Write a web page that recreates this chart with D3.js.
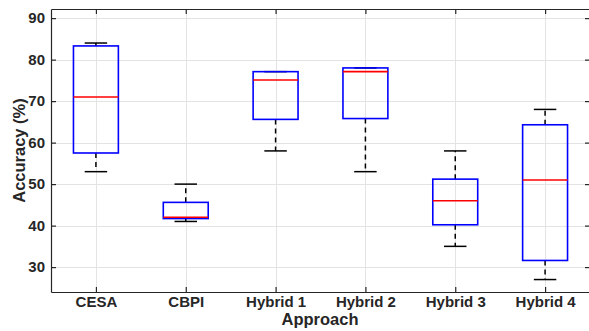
<!DOCTYPE html>
<html lang="en">
<head>
    <meta charset="UTF-8">
    <title>Accuracy by Approach</title>
    <script src="https://d3js.org/d3.v7.min.js"></script>
    <style>
        body { margin: 0; background: #fff; }
        text { font-family: "Liberation Sans", Arial, sans-serif; font-weight: bold; fill: #262626; }
    </style>
</head>
<body>
    <svg id="chart"></svg>
    <script>
        const approaches = ["CESA", "CBPI", "Hybrid 1", "Hybrid 2", "Hybrid 3", "Hybrid 4"];
        const whiskerLow  = [53, 41, 58, 53, 35, 27];
        const quartile1   = [57.5, 41.7, 65.6, 65.8, 40.2, 31.6];
        const medians     = [71, 42, 75.1, 77.1, 46, 51];
        const quartile3   = [83.3, 45.6, 77.1, 78, 51.2, 64.3];
        const whiskerHigh = [84, 50, 77.1, 78, 58, 68];
        const yTicks = [30, 40, 50, 60, 70, 80, 90];

        const width = 589, height = 331;
        const mLeft = 51, mRight = 590, mTop = 9, mBottom = 292;

        const svg = d3.select("#chart").attr("width", width).attr("height", height);

        const x = d3.scaleLinear().domain([0.5, 6.5]).range([mLeft, mRight]);
        const y = d3.scaleLinear().domain([24, 92.2]).range([mBottom, mTop]);

        // grid
        const grid = svg.append("g").attr("stroke", "#e3e3e3").attr("stroke-width", 1);
        grid.selectAll(".gy").data(yTicks).enter().append("line")
            .attr("x1", mLeft).attr("x2", mRight)
            .attr("y1", d => Math.round(y(d)) + 0.5).attr("y2", d => Math.round(y(d)) + 0.5);
        grid.selectAll(".gx").data(approaches).enter().append("line")
            .attr("y1", mTop).attr("y2", mBottom)
            .attr("x1", (d, i) => Math.round(x(i + 1)) + 0.5).attr("x2", (d, i) => Math.round(x(i + 1)) + 0.5);

        // axes (ticks inside, mirrored)
        const yAxis = d3.axisLeft(y).tickValues(yTicks).tickSizeInner(-5).tickSizeOuter(0).tickPadding(6);
        const yAxisR = d3.axisRight(y).tickValues(yTicks).tickSizeInner(-5).tickSizeOuter(0).tickFormat("");
        const xAxis = d3.axisBottom(x).tickValues(d3.range(1, 7)).tickSizeInner(-5).tickSizeOuter(0)
            .tickPadding(6).tickFormat(d => approaches[d - 1]);
        const xAxisT = d3.axisTop(x).tickValues(d3.range(1, 7)).tickSizeInner(-5).tickSizeOuter(0).tickFormat("");

        const gy = svg.append("g").attr("transform", `translate(${mLeft},0)`).call(yAxis);
        const gyr = svg.append("g").attr("transform", `translate(${mRight},0)`).call(yAxisR);
        const gx = svg.append("g").attr("transform", `translate(0,${mBottom})`).call(xAxis);
        const gxt = svg.append("g").attr("transform", `translate(0,${mTop})`).call(xAxisT);

        [gy, gyr, gx, gxt].forEach(g => {
            g.selectAll("path").attr("stroke", "#262626").attr("stroke-width", 1.2);
            g.selectAll("line").attr("stroke", "#262626").attr("stroke-width", 1.2);
            g.selectAll("text").style("font-size", "15px").attr("fill", "#262626");
        });
        gx.selectAll("text").attr("dy", "0.63em");

        // boxes
        const idx = d3.range(approaches.length);
        const boxHalf = (x(2) - x(1)) * 0.25;
        const capHalf = boxHalf / 2;
        const boxes = svg.append("g");

        // whiskers
        boxes.selectAll(".wu").data(idx).enter().append("line")
            .attr("x1", i => x(i + 1)).attr("x2", i => x(i + 1))
            .attr("y1", i => y(quartile3[i])).attr("y2", i => y(whiskerHigh[i]))
            .attr("stroke", "#000").attr("stroke-width", 1.5).attr("stroke-dasharray", "5,4");
        boxes.selectAll(".wl").data(idx).enter().append("line")
            .attr("x1", i => x(i + 1)).attr("x2", i => x(i + 1))
            .attr("y1", i => y(quartile1[i])).attr("y2", i => y(whiskerLow[i]))
            .attr("stroke", "#000").attr("stroke-width", 1.5).attr("stroke-dasharray", "5,4");

        // caps
        boxes.selectAll(".cu").data(idx).enter().append("line")
            .attr("x1", i => x(i + 1) - capHalf).attr("x2", i => x(i + 1) + capHalf)
            .attr("y1", i => y(whiskerHigh[i])).attr("y2", i => y(whiskerHigh[i]))
            .attr("stroke", "#000").attr("stroke-width", 1.5);
        boxes.selectAll(".cl").data(idx).enter().append("line")
            .attr("x1", i => x(i + 1) - capHalf).attr("x2", i => x(i + 1) + capHalf)
            .attr("y1", i => y(whiskerLow[i])).attr("y2", i => y(whiskerLow[i]))
            .attr("stroke", "#000").attr("stroke-width", 1.5);

        // box
        boxes.selectAll("rect").data(idx).enter().append("rect")
            .attr("x", i => x(i + 1) - boxHalf).attr("width", boxHalf * 2)
            .attr("y", i => y(quartile3[i])).attr("height", i => y(quartile1[i]) - y(quartile3[i]))
            .attr("fill", "none").attr("stroke", "#0000ff").attr("stroke-width", 1.6);

        // median
        boxes.selectAll(".med").data(idx).enter().append("line")
            .attr("x1", i => x(i + 1) - boxHalf).attr("x2", i => x(i + 1) + boxHalf)
            .attr("y1", i => y(medians[i])).attr("y2", i => y(medians[i]))
            .attr("stroke", "#ff0000").attr("stroke-width", 1.6);

        // labels
        svg.append("text").attr("x", (mLeft + mRight) / 2 - 0.5).attr("y", 325)
            .attr("text-anchor", "middle").style("font-size", "16.5px").text("Approach");
        svg.append("text").attr("transform", `translate(25,${(mTop + mBottom) / 2}) rotate(-90)`)
            .attr("text-anchor", "middle").style("font-size", "16.5px").text("Accuracy (%)");
    </script>
</body>
</html>
